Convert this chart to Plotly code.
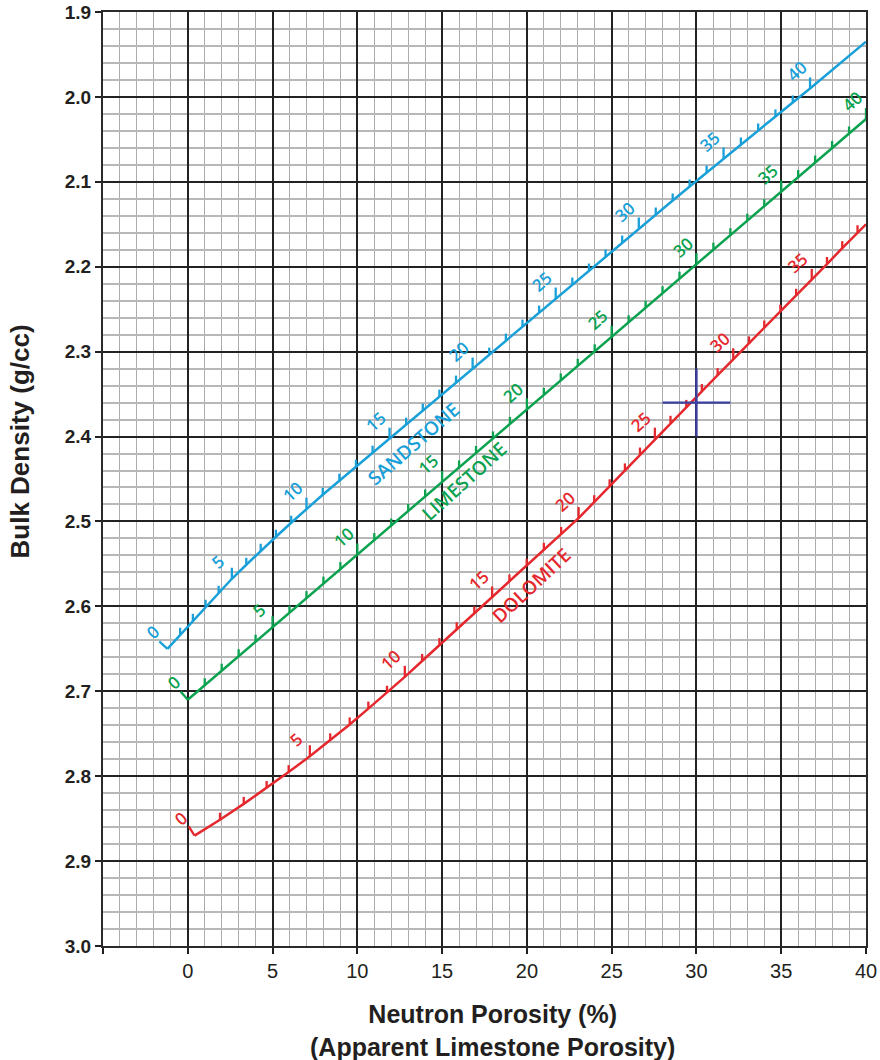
import plotly.graph_objects as go

# ---------------- data ----------------
porosity = list(range(0, 41))

ss_x = [-1.2, -0.45, 0.3, 1.05, 1.82, 2.6, 3.45, 4.3, 5.2, 6.1, 7.0, 7.96, 8.94, 9.92, 10.9,
        11.9, 12.88, 13.86, 14.84, 15.82, 16.8, 17.78, 18.76, 19.74, 20.72, 21.7, 22.68,
        23.66, 24.64, 25.62, 26.6, 27.6, 28.6, 29.6, 30.6, 31.6, 32.62, 33.64, 34.66, 35.68, 36.7]
ss_rho = [2.650, 2.6335, 2.617, 2.6005, 2.584, 2.5675, 2.551, 2.5345, 2.518, 2.5015, 2.485,
          2.4685, 2.452, 2.4355, 2.419, 2.4025, 2.386, 2.3695, 2.353, 2.3365, 2.320, 2.3035,
          2.287, 2.2705, 2.254, 2.2375, 2.221, 2.2045, 2.188, 2.1715, 2.155, 2.1385, 2.122,
          2.1055, 2.089, 2.0725, 2.056, 2.0395, 2.023, 2.0065, 1.990]
ss_end = (40.0, 1.935)

ls_x = [0, 1, 2, 3, 4, 5, 6, 7, 8, 9, 10, 11, 12, 13, 14, 15, 16, 17, 18, 19, 20, 21, 22, 23,
        24, 25, 26, 27, 28, 29, 30, 31, 32, 33, 34, 35, 36, 37, 38, 39, 40]
ls_rho = [2.710, 2.6929, 2.6758, 2.6587, 2.6416, 2.6245, 2.6074, 2.5903, 2.5732, 2.5561, 2.539,
          2.5219, 2.5048, 2.4877, 2.4706, 2.4535, 2.4364, 2.4193, 2.4022, 2.3851, 2.368, 2.3509,
          2.3338, 2.3167, 2.2996, 2.2825, 2.2654, 2.2483, 2.2312, 2.2141, 2.197, 2.1799, 2.1628,
          2.1457, 2.1286, 2.1115, 2.0944, 2.0773, 2.0602, 2.0431, 2.026]
ls_end = None

dol_x = [0.4, 1.9, 3.3, 4.65, 5.95, 7.2, 8.4, 9.55, 10.65, 11.75, 12.8, 13.82, 14.84, 15.86,
         16.9, 17.95, 18.97, 19.99, 21.0, 22.02, 23.05, 23.97, 24.88, 25.78, 26.67, 27.55,
         28.47, 29.4, 30.32, 31.25, 32.17, 33.1, 34.0, 34.95, 35.88, 36.8, 37.7, 38.6, 39.5]
dol_rho = [2.870, 2.8513, 2.8326, 2.8139, 2.7952, 2.7765, 2.7578, 2.7391, 2.7204, 2.7017, 2.683,
           2.6643, 2.6456, 2.6269, 2.6082, 2.5895, 2.5708, 2.5521, 2.5334, 2.5147, 2.496, 2.4773,
           2.4586, 2.4399, 2.4212, 2.4025, 2.3838, 2.3651, 2.3464, 2.3277, 2.309, 2.2903, 2.2716,
           2.2529, 2.2342, 2.2155, 2.1968, 2.1781, 2.1594]
dol_end = (40.0, 2.15)

curve_names = ["SANDSTONE", "LIMESTONE", "DOLOMITE"]
name_pos = [(13.3, 2.409), (16.3, 2.452), (20.3, 2.575)]
name_angle = [-41, -42, -43]

point_x, point_rho = 30, 2.36
cross_x = [28, 32]
cross_rho = [2.32, 2.40]

x_ticks = [-5, 0, 5, 10, 15, 20, 25, 30, 35, 40]
x_ticktext = ["", "0", "5", "10", "15", "20", "25", "30", "35", "40"]
y_ticks = [1.9, 2.0, 2.1, 2.2, 2.3, 2.4, 2.5, 2.6, 2.7, 2.8, 2.9, 3.0]
y_ticktext = ["1.9", "2.0", "2.1", "2.2", "2.3", "2.4", "2.5", "2.6", "2.7", "2.8", "2.9", "3.0"]

colors = ["#1aa0d8", "#0aa24f", "#e5282d"]
cross_color = "#3b3f9e"

# ---------------- figure ----------------
W, H = 880, 1060
ML, MR, MT, MB = 103, 14, 12, 114
XR = [-5, 40]
YR = [3.0, 1.9]
px_per_x = (W - ML - MR) / (XR[1] - XR[0])
px_per_y = (H - MT - MB) / (YR[0] - YR[1])

fig = go.Figure()

curves = [(ss_x, ss_rho, ss_end), (ls_x, ls_rho, ls_end), (dol_x, dol_rho, dol_end)]
label_font = "Open Sans"

for ci, (cx, cr, cend) in enumerate(curves):
    col = colors[ci]
    lx = list(cx)
    ly = list(cr)
    if cend is not None:
        lx.append(cend[0])
        ly.append(cend[1])
    fig.add_trace(go.Scatter(x=lx, y=ly, mode="lines", line=dict(color=col, width=2.5),
                             hoverinfo="skip", showlegend=False))
    # tick marks
    tx, ty = [], []
    for i in range(1, len(cx)):
        p = porosity[i]
        L = 11 if p % 5 == 0 else 7
        tx += [cx[i], cx[i], None]
        ty += [cr[i], cr[i] - L / px_per_y, None]
    # zero tick perpendicular to the curve
    dxp = (cx[1] - cx[0]) * px_per_x
    dyp = (cr[1] - cr[0]) * px_per_y
    n = (dxp ** 2 + dyp ** 2) ** 0.5
    ux, uy = dyp / n, -dxp / n
    if ux > 0:
        ux, uy = -ux, -uy
    L0 = 11
    tx += [cx[0], cx[0] + ux * L0 / px_per_x, None]
    ty += [cr[0], cr[0] + uy * L0 / px_per_y, None]
    fig.add_trace(go.Scatter(x=tx, y=ty, mode="lines", line=dict(color=col, width=2.3),
                             hoverinfo="skip", showlegend=False))
    # numeric labels
    for i in range(len(cx)):
        p = porosity[i]
        if p % 5 == 0:
            fig.add_annotation(x=cx[i], y=cr[i], xref="x", yref="y", text=str(p),
                               showarrow=False, textangle=-42, xshift=-14, yshift=17,
                               font=dict(family=label_font, size=17, color=col, weight=600))
    # curve name
    fig.add_annotation(x=name_pos[ci][0], y=name_pos[ci][1], xref="x", yref="y",
                       text=curve_names[ci], showarrow=False, textangle=name_angle[ci],
                       font=dict(family=label_font, size=19, color=col, weight=600))

# cross
fig.add_trace(go.Scatter(x=[cross_x[0], cross_x[1], None, point_x, point_x],
                         y=[point_rho, point_rho, None, cross_rho[0], cross_rho[1]],
                         mode="lines", line=dict(color=cross_color, width=2.4),
                         hoverinfo="skip", showlegend=False))

fig.update_xaxes(range=XR, tickmode="array", tickvals=x_ticks, ticktext=x_ticktext,
                 ticks="outside", ticklen=6, tickwidth=1.5, tickcolor="#231f20",
                 tickfont=dict(family="Liberation Sans", size=20, color="#231f20"),
                 showgrid=True, gridcolor="#222222", gridwidth=1.6,
                 minor=dict(dtick=1, tick0=0, showgrid=True, gridcolor="#ababab", gridwidth=1.3),
                 showline=True, linecolor="#2a2a2a", linewidth=2, mirror=True, zeroline=False,
                 automargin=False)
fig.update_yaxes(range=YR, tickmode="array", tickvals=y_ticks, ticktext=y_ticktext,
                 ticks="outside", ticklen=6, tickwidth=1.5, tickcolor="#231f20",
                 tickfont=dict(family="Liberation Sans", size=19, color="#231f20", weight="bold"),
                 showgrid=True, gridcolor="#222222", gridwidth=1.6,
                 minor=dict(dtick=0.02, tick0=1.9, showgrid=True, gridcolor="#b8b8b8", gridwidth=1.5),
                 showline=True, linecolor="#2a2a2a", linewidth=2, mirror=True, zeroline=False,
                 automargin=False)

fig.add_annotation(x=-0.109, y=0.54, xref="paper", yref="paper", text="Bulk Density (g/cc)",
                   textangle=-90, showarrow=False, xanchor="center", yanchor="middle",
                   font=dict(family="Liberation Sans", size=26, color="#231f20", weight="bold"))
fig.add_annotation(x=0.511, y=-0.09, xref="paper", yref="paper",
                   text="Neutron Porosity (%)<br>(Apparent Limestone Porosity)",
                   showarrow=False, xanchor="center", yanchor="middle",
                   font=dict(family="Liberation Sans", size=25, color="#231f20", weight="bold"))

fig.update_layout(width=W, height=H, margin=dict(l=ML, r=MR, t=MT, b=MB),
                  plot_bgcolor="white", paper_bgcolor="white", showlegend=False)

fig.write_html("out.html", config={"displayModeBar": False},
               post_script="document.body.style.margin='0';document.body.style.padding='0';"
                           "document.body.style.overflow='hidden';")
